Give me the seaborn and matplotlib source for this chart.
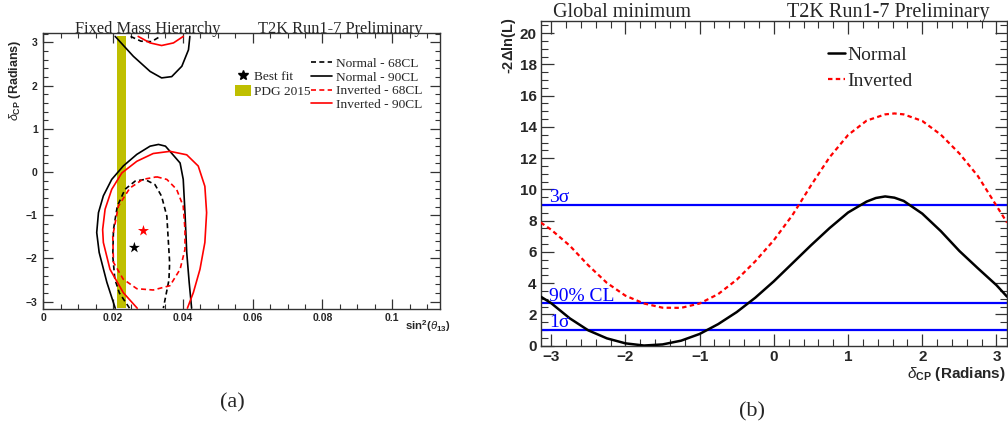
import numpy as np
import pandas as pd
import matplotlib
matplotlib.use("Agg")
import matplotlib.pyplot as plt
from matplotlib.lines import Line2D
from matplotlib.patches import Patch
from matplotlib.ticker import MultipleLocator
import seaborn as sns

# ---------------- data: panel (a) contours (sin^2 theta13, delta_CP) ----------------
n90_low_x = [0.0206, 0.0182, 0.0160, 0.0153, 0.0158, 0.0172, 0.0196, 0.0229, 0.0268, 0.0306,
             0.0330, 0.0350, 0.0363, 0.0392, 0.0401, 0.0406, 0.0411, 0.0418, 0.0425]
n90_low_y = [-3.15, -2.55, -1.86, -1.40, -0.94, -0.55, -0.17, 0.14, 0.41, 0.60,
             0.64, 0.60, 0.48, 0.21, -0.17, -0.94, -1.86, -2.55, -3.15]
n90_up_x = [0.0206, 0.0258, 0.0306, 0.0339, 0.0368, 0.0397, 0.0416, 0.0420]
n90_up_y = [3.14, 2.68, 2.33, 2.18, 2.21, 2.45, 2.83, 3.14]

n68_low_x = [0.0247, 0.0218, 0.0205, 0.0199, 0.0201, 0.0212, 0.0234, 0.0263, 0.0291, 0.0320,
             0.0339, 0.0354, 0.0358, 0.0362, 0.0360, 0.0344]
n68_low_y = [-3.15, -2.80, -2.48, -1.94, -1.33, -0.79, -0.40, -0.21, -0.17, -0.29,
             -0.56, -1.02, -1.56, -2.09, -2.50, -3.15]
n68_up_x = [0.0250, 0.0280, 0.0310, 0.0335]
n68_up_y = [3.14, 3.03, 3.02, 3.14]

i90_low_x = [0.0269, 0.0229, 0.0191, 0.0172, 0.0170, 0.0177, 0.0196, 0.0225, 0.0268, 0.0315,
             0.0363, 0.0411, 0.0444, 0.0463, 0.0468, 0.0463, 0.0449, 0.0430, 0.0413]
i90_low_y = [-3.15, -2.79, -2.25, -1.63, -1.33, -0.86, -0.40, -0.02, 0.25, 0.43,
             0.48, 0.40, 0.14, -0.33, -0.94, -1.63, -2.25, -2.79, -3.15]
i90_up_x = [0.0272, 0.0306, 0.0339, 0.0373, 0.0401]
i90_up_y = [3.14, 2.99, 2.93, 2.99, 3.14]

i68_x = [0.0325, 0.0354, 0.0382, 0.0401, 0.0406, 0.0406, 0.0392, 0.0363, 0.0315, 0.0268,
         0.0229, 0.0201, 0.0199, 0.0215, 0.0248, 0.0285, 0.0325]
i68_y = [-0.11, -0.17, -0.40, -0.79, -1.33, -1.79, -2.25, -2.63, -2.73, -2.70,
         -2.48, -2.09, -1.48, -0.79, -0.37, -0.17, -0.11]

bestfit_x = [0.0261, 0.0287]
bestfit_y = [-1.75, -1.36]
bestfit_hier = ["Normal", "Inverted"]

pdg_lo, pdg_hi = 0.0212, 0.0236

# ---------------- data: panel (b) -2 dlnL vs delta_CP ----------------
normal_d = [-3.1416, -3.0, -2.75, -2.5, -2.25, -2.0, -1.75, -1.5, -1.25, -1.0,
            -0.75, -0.5, -0.25, 0.0, 0.25, 0.5, 0.75, 1.0, 1.25, 1.375,
            1.5, 1.625, 1.75, 2.0, 2.25, 2.5, 2.75, 3.0, 3.1416]
normal_v = [3.14, 2.72, 1.75, 0.98, 0.47, 0.15, 0.01, 0.08, 0.32, 0.75,
            1.38, 2.15, 3.07, 4.12, 5.27, 6.42, 7.52, 8.52, 9.22, 9.45,
            9.55, 9.47, 9.26, 8.45, 7.33, 6.06, 4.95, 3.87, 3.14]
inverted_d = [-3.1416, -3.0, -2.75, -2.5, -2.25, -2.0, -1.75, -1.5, -1.25, -1.0,
              -0.75, -0.5, -0.25, 0.0, 0.25, 0.5, 0.75, 1.0, 1.25, 1.5,
              1.625, 1.75, 2.0, 2.25, 2.5, 2.75, 3.0, 3.1416]
inverted_v = [7.88, 7.42, 6.40, 5.14, 4.02, 3.20, 2.70, 2.43, 2.42, 2.70,
              3.30, 4.22, 5.40, 6.75, 8.35, 10.25, 12.05, 13.48, 14.40, 14.80,
              14.86, 14.80, 14.38, 13.50, 12.30, 10.85, 8.95, 7.88]

cl_levels = [9.0, 2.71, 1.0]
cl_labels = ["3σ", "90% CL", "1σ"]

# ---------------- style ----------------
sns.set_style("ticks")
SERIF = "Liberation Serif"
SANS = "Liberation Sans"
plt.rcParams["font.family"] = [SANS, "DejaVu Sans"]
plt.rcParams["mathtext.fontset"] = "custom"
plt.rcParams["mathtext.rm"] = "Liberation Sans"
plt.rcParams["mathtext.it"] = "Liberation Sans:italic"
plt.rcParams["mathtext.bf"] = "Liberation Sans:bold"

fig = plt.figure(figsize=(10.08, 4.34), dpi=100)
ax1 = fig.add_axes([0.043, 0.2880, 0.3935, 0.636])
ax2 = fig.add_axes([0.5364, 0.2035, 0.4626, 0.749])

def style_axes(ax, fs, maj, mnr):
    for s in ax.spines.values():
        s.set_linewidth(1.0)
        s.set_color("#333333")
        s.set_visible(True)
    ax.tick_params(which="both", direction="in", top=True, right=True, color="#333333")
    ax.tick_params(which="major", length=maj, width=0.9, labelsize=fs)
    ax.tick_params(which="minor", length=mnr, width=0.8)
    for lab in ax.get_xticklabels() + ax.get_yticklabels():
        lab.set_fontweight("bold")
        lab.set_fontfamily(SANS)

# ---------------- panel (a) ----------------
ax1.axvspan(pdg_lo, pdg_hi, ymin=0.0035, ymax=0.99, color="#bfbf00", lw=0, zorder=1)

def contour(ax, xs, ys, color, ls, lw=1.2):
    df = pd.DataFrame({"x": xs, "y": ys})
    sns.lineplot(data=df, x="x", y="y", sort=False, estimator=None, color=color,
                 lw=lw, ax=ax, zorder=3, linestyle=ls)

dash = (0, (3.0, 2.0))
contour(ax1, n90_low_x, n90_low_y, "black", "-")
contour(ax1, n90_up_x, n90_up_y, "black", "-")
contour(ax1, n68_low_x, n68_low_y, "black", dash)
contour(ax1, n68_up_x, n68_up_y, "black", dash)
contour(ax1, i90_low_x, i90_low_y, "red", "-")
contour(ax1, i90_up_x, i90_up_y, "red", "-")
contour(ax1, i68_x, i68_y, "red", dash)

bf = pd.DataFrame({"x": bestfit_x, "y": bestfit_y, "h": bestfit_hier})
sns.scatterplot(data=bf, x="x", y="y", hue="h", palette={"Normal": "black", "Inverted": "red"},
                marker="*", s=70, linewidth=0, ax=ax1, legend=False, zorder=4)

ax1.set_xlim(0, 0.1137)
ax1.set_ylim(-3.17, 3.22)
ax1.xaxis.set_major_locator(MultipleLocator(0.02))
ax1.xaxis.set_minor_locator(MultipleLocator(0.005))
ax1.yaxis.set_major_locator(MultipleLocator(1))
ax1.yaxis.set_minor_locator(MultipleLocator(0.2))
ax1.set_xticks([0, 0.02, 0.04, 0.06, 0.08, 0.1])
ax1.set_xticklabels(["0", "0.02", "0.04", "0.06", "0.08", "0.1"])
ax1.set_yticks([-3, -2, -1, 0, 1, 2, 3])
ax1.set_yticklabels(["\u22123", "\u22122", "\u22121", "0", "1", "2", "3"])
ax1.set_xlabel("")
ax1.set_ylabel("")
style_axes(ax1, 7.5, 7.0, 3.6)
ax1.tick_params(axis="x", pad=3)
ax1.tick_params(axis="y", pad=4)

ax1.text(0.264, 1.0, "Fixed Mass Hierarchy", transform=ax1.transAxes, ha="center",
         va="baseline", fontsize=11.8, family=SERIF)
ax1.text(0.748, 1.0, "T2K Run1-7 Preliminary", transform=ax1.transAxes, ha="center",
         va="baseline", fontsize=11.8, family=SERIF)

h_lines = [Line2D([], [], color="black", lw=1.2, ls=dash),
           Line2D([], [], color="black", lw=1.2, ls="-"),
           Line2D([], [], color="red", lw=1.2, ls=dash),
           Line2D([], [], color="red", lw=1.2, ls="-")]
l_lines = ["Normal - 68CL", "Normal - 90CL", "Inverted - 68CL", "Inverted - 90CL"]
leg1 = ax1.legend(h_lines, l_lines, loc="upper right", bbox_to_anchor=(0.97, 0.93),
                  frameon=False, prop={"family": SERIF, "size": 9.6}, handlelength=1.55,
                  handletextpad=0.35, labelspacing=0.1, borderaxespad=0)
ax1.add_artist(leg1)
h_mark = [Line2D([], [], color="black", marker="*", ls="", markersize=7),
          Patch(facecolor="#bfbf00", edgecolor="none")]
leg2 = ax1.legend(h_mark, ["Best fit", "PDG 2015"], loc="upper left",
                  bbox_to_anchor=(0.47, 0.885), frameon=False,
                  prop={"family": SERIF, "size": 9.6}, handlelength=1.2, handleheight=0.9,
                  handletextpad=0.2, labelspacing=0.1, borderaxespad=0)

fig.text(15 / 1008, 1 - 80 / 434, r"$\delta_{\mathbf{CP}}$ (Radians)", rotation=90,
         ha="center", va="center", fontsize=9, fontweight="bold", family=SANS)
fig.text(451 / 1008, 1 - 326 / 434, r"sin$^{\mathbf{2}}$($\theta_{\mathbf{13}}$)",
         ha="right", va="center", fontsize=8.2, fontweight="bold", family=SANS)

# ---------------- panel (b) ----------------
for lv in cl_levels:
    ax2.axhline(lv, color="#0000ff", lw=1.6, zorder=2)

dfn = pd.DataFrame({"d": normal_d, "v": normal_v})
dfi = pd.DataFrame({"d": inverted_d, "v": inverted_v})
sns.lineplot(data=dfn, x="d", y="v", sort=False, estimator=None, color="black", lw=1.8,
             ax=ax2, zorder=3)
sns.lineplot(data=dfi, x="d", y="v", sort=False, estimator=None, color="red", lw=1.6,
             ax=ax2, zorder=3, linestyle=(0, (2.0, 1.5)))

for lv, lab in zip(cl_levels, cl_labels):
    ax2.text(-3.03, lv - 0.08, lab, color="#0000ff", ha="left", va="bottom", fontsize=14,
             family=SERIF, zorder=4)

ax2.set_xlim(-np.pi, np.pi)
ax2.set_ylim(0, 20.8)
ax2.xaxis.set_major_locator(MultipleLocator(1))
ax2.xaxis.set_minor_locator(MultipleLocator(0.2))
ax2.yaxis.set_major_locator(MultipleLocator(2))
ax2.yaxis.set_minor_locator(MultipleLocator(0.5))
ax2.set_xticks([-3, -2, -1, 0, 1, 2, 3])
ax2.set_xticklabels(["\u22123", "\u22122", "\u22121", "0", "1", "2", "3"])
ax2.set_yticks(list(range(0, 21, 2)))
ax2.set_yticklabels([str(v) for v in range(0, 21, 2)])
ax2.set_xlabel("")
ax2.set_ylabel("")
style_axes(ax2, 11, 9.0, 5.0)
ax2.tick_params(axis="x", pad=3)
ax2.tick_params(axis="y", pad=3)

ax2.text(0.174, 1.01, "Global minimum", transform=ax2.transAxes, ha="center",
         va="baseline", fontsize=14.5, family=SERIF)
ax2.text(0.745, 1.01, "T2K Run1-7 Preliminary", transform=ax2.transAxes, ha="center",
         va="baseline", fontsize=14.5, family=SERIF)

h2 = [Line2D([], [], color="black", lw=1.8), Line2D([], [], color="red", lw=1.6, ls=(0, (2.0, 1.5)))]
ax2.legend(h2, ["Normal", "Inverted"], loc="upper left", bbox_to_anchor=(0.60, 0.945),
           frameon=False, prop={"family": SERIF, "size": 14}, handlelength=0.85,
           handletextpad=0.15, labelspacing=0.45, borderaxespad=0)

fig.text(509 / 1008, 1 - 46 / 434, r"-2$\mathbf{\Delta}$ln(L)", rotation=90, ha="center",
         va="center", fontsize=10.5, fontweight="bold", family=SANS)
fig.text(1006 / 1008, 1 - 374 / 434, r"$\delta_{\mathbf{CP}}$ (Radians)", ha="right",
         va="center", fontsize=11, fontweight="bold", family=SANS)

fig.text(232 / 1008, 1 - 403 / 434, "(a)", ha="center", va="center", fontsize=16, family=SERIF)
fig.text(752 / 1008, 1 - 412 / 434, "(b)", ha="center", va="center", fontsize=16, family=SERIF)

fig.savefig("out.png", dpi=100, facecolor="white")
